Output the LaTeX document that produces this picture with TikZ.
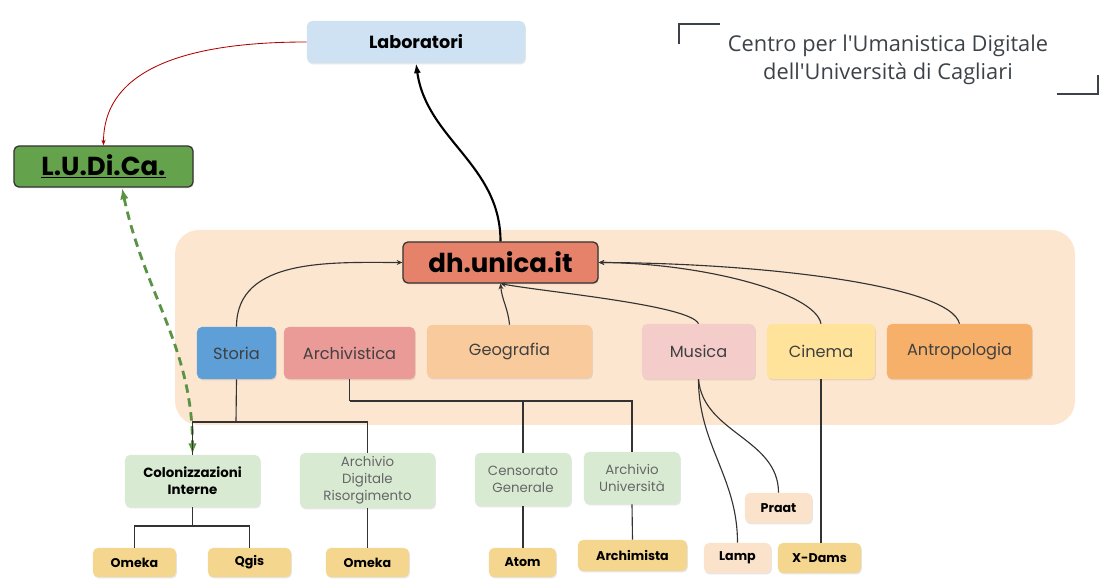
\documentclass[tikz,border=0pt]{standalone}
\usepackage{fontspec}
\setmainfont{Poppins}
\newfontfamily\titlefont{Open Sans}
\usepackage{tikz}
\usetikzlibrary{arrows.meta,shadows}

\definecolor{labblue}{HTML}{CFE2F3}
\definecolor{ludgreen}{HTML}{64A34C}
\definecolor{dhsalmon}{HTML}{E6826A}
\definecolor{storiablue}{HTML}{5E9FD8}
\definecolor{archred}{HTML}{EA9A97}
\definecolor{geoorange}{HTML}{F9CB9C}
\definecolor{muspink}{HTML}{F4CDCB}
\definecolor{cinyellow}{HTML}{FFE39A}
\definecolor{antorange}{HTML}{F6B06A}
\definecolor{bgpeach}{HTML}{FDE6CF}
\definecolor{greenbox}{HTML}{D9EAD3}
\definecolor{toolyellow}{HTML}{F4D68E}
\definecolor{toolpeach}{HTML}{FBE2CB}
\definecolor{inkgray}{HTML}{3C4248}

\begin{document}
\begin{tikzpicture}[x=0.025cm,y=-0.025cm,
	box/.style={rounded corners=3.5pt, inner sep=0pt, align=center,
		drop shadow={opacity=0.2, shadow xshift=0.6pt, shadow yshift=-1pt}},
	area/.style={box, font=\fontsize{11.5}{13}\selectfont, text=black!75},
	project/.style={box, fill=greenbox, font=\fontsize{9.5}{12}\selectfont, text=black!60},
	tool/.style={box, fill=toolyellow, font=\bfseries\fontsize{9}{11}\selectfont, minimum height=0.725cm},
	link/.style={black!80, line width=0.8pt},
	into/.style={link, -{Stealth[length=4pt,width=3.5pt]}},
	corner/.style={inkgray, line width=2pt}]
	\useasboundingbox (0,0) rectangle (1112,582);

	% peach area behind the disciplines
	\fill[bgpeach, rounded corners=0.6cm] (175,230) rectangle (1075,425);

	% top
	\node[box, fill=labblue, minimum width=5.45cm, minimum height=1.05cm,
		font=\bfseries\fontsize{12.5}{14}\selectfont] (lab) at (416,42) {Laboratori};
	\node[box, fill=ludgreen, draw=black!80, line width=0.9pt, minimum width=4.475cm, minimum height=1.025cm,
		font=\bfseries\fontsize{18.5}{20}\selectfont] (ludica) at (103.5,166.5) {\underline{L.U.Di.Ca.}};
	\node[box, fill=dhsalmon, draw=black!80, line width=0.9pt, minimum width=4.875cm, minimum height=1.025cm,
		font=\bfseries\fontsize{18.5}{20}\selectfont] (dh) at (500.5,262.5) {dh.unica.it};

	% title
	\node[text=inkgray, align=center, font=\titlefont\fontsize{15.5}{20}\selectfont] (title) at (888,60)
		{Centro per l'Umanistica Digitale\\dell'Università di Cagliari};
	\draw[corner] (679,44) -- (679,24) -- (720,24);
	\draw[corner] (1057,94) -- (1098,94) -- (1098,75);

	% disciplines
	\node[area, fill=storiablue, minimum width=1.975cm, minimum height=1.3cm] (storia) at (236.5,353) {Storia};
	\node[area, fill=archred, minimum width=3.275cm, minimum height=1.3cm] (archiv) at (349.5,353) {Archivistica};
	\node[area, fill=geoorange, minimum width=4.125cm, minimum height=1.325cm] (geo) at (509.5,351.5) {Geografia};
	\node[area, fill=muspink, minimum width=2.825cm, minimum height=1.375cm] (musica) at (698.5,351.5) {Musica};
	\node[area, fill=cinyellow, minimum width=2.7cm, minimum height=1.375cm] (cinema) at (821,351.5) {Cinema};
	\node[area, fill=antorange, minimum width=3.625cm, minimum height=1.375cm] (antro) at (959.5,351.5) {Antropologia};

	% projects
	\node[project, text=black, font=\bfseries\fontsize{9.5}{12}\selectfont, minimum width=3.375cm, minimum height=1.3cm] (coloniz) at (192.5,481) {Colonizzazioni\\Interne};
	\node[project, minimum width=3.375cm, minimum height=1.375cm] (adr) at (367.5,480.5) {Archivio\\Digitale\\Risorgimento};
	\node[project, minimum width=2.4cm, minimum height=1.325cm] (cens) at (523,479.5) {Censorato\\Generale};
	\node[project, minimum width=2.4cm, minimum height=1.3cm] (univ) at (632,478) {Archivio\\Università};

	% tools
	\node[tool, minimum width=2.075cm] (omekaA) at (134.5,562.5) {Omeka};
	\node[tool, minimum width=2.075cm] (qgis) at (249.5,562.5) {Qgis};
	\node[tool, minimum width=2.075cm] (omekaB) at (367.5,562.5) {Omeka};
	\node[tool, minimum width=1.675cm] (atom) at (522.5,562.5) {Atom};
	\node[tool, minimum width=2.725cm, minimum height=0.775cm] (archimista) at (632.5,555.5) {Archimista};
	\node[tool, fill=toolpeach, minimum width=1.675cm, minimum height=0.75cm] (praat) at (778.5,508) {Praat};
	\node[tool, fill=toolpeach, minimum width=1.675cm, minimum height=0.75cm] (lamp) at (737.5,558) {Lamp};
	\node[tool, minimum width=2.075cm, minimum height=0.75cm] (xdams) at (819.5,558) {X-Dams};

	% arrows
	\draw[red!70!black, line width=0.6pt, -{Stealth[length=4pt,width=3pt]}] (lab.west) to[out=180, in=90] (ludica.north);
	\draw[black, line width=1.5pt, -{Latex[length=7pt,width=5pt]}] (dh.north) to[out=90, in=-82] (lab.south);
	\draw[into] (storia.north) to[out=90, in=180] (dh.west);
	\draw[into] (geo.north) to[out=95, in=-85] (dh.south);
	\draw[into] (musica.north) .. controls (690,305) and (545,292) .. (dh.south);
	\draw[into] (cinema.north) .. controls (815,292) and (700,263) .. (dh.east);
	\draw[into] (antro.north) .. controls (950,285) and (760,263) .. (dh.east);
	\coordinate (ludfoot) at (122,188);
	\draw[ludgreen!90!black, line width=2pt, dash pattern=on 6pt off 4pt,
		{Latex[length=8pt,width=6pt]}-{Latex[length=8pt,width=6pt]}] (ludfoot) to[out=-78, in=90] (coloniz.north);

	% trees
	\coordinate (storiaknot) at (236,422);
	\coordinate (archivknot) at (349.5,401);
	\coordinate (colonizknot) at (192.5,526);
	\draw[link] (storia.south) -- (storiaknot);
	\draw[link] (storiaknot) -| (coloniz.north);
	\draw[link] (storiaknot) -| (adr.north);
	\draw[link] (archiv.south) -- (archivknot);
	\draw[link] (archivknot) -| (cens.north);
	\draw[link] (archivknot) -| (univ.north);
	\draw[link] (coloniz.south) -- (colonizknot);
	\draw[link] (colonizknot) -| (omekaA.north);
	\draw[link] (colonizknot) -| (qgis.north);
	\draw[link] (adr.south) -- (omekaB.north);
	\draw[link] (cens.south) -- (cens.south |- atom.north);
	\draw[link] (univ.south) -- (archimista.north);
	\draw[link] (musica.south) to[out=-90, in=90] (lamp.north);
	\draw[link] (musica.south) to[out=-85, in=90] (praat.north);
	\draw[link] (cinema.south) -- (cinema.south |- xdams.north);
\end{tikzpicture}
\end{document}
